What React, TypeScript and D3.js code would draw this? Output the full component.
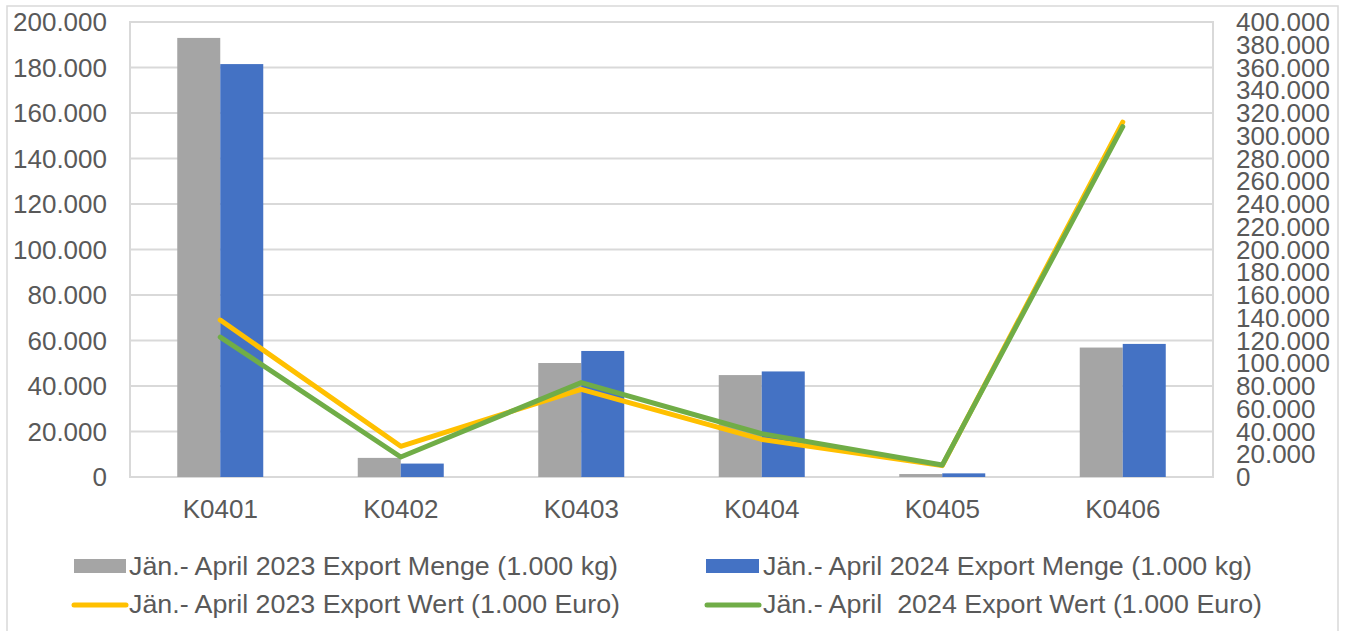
import React from "react";
import * as d3 from "d3";

// categories and series
const categories = ["K0401", "K0402", "K0403", "K0404", "K0405", "K0406"];
const menge2023 = [193000, 8400, 50100, 44800, 1300, 56900];
const menge2024 = [181500, 5900, 55400, 46400, 1600, 58500];
const wert2023 = [138000, 27000, 77000, 33000, 10000, 312000];
const wert2024 = [123000, 17600, 83000, 38000, 10500, 308000];

const leftTicks = d3.range(0, 200001, 20000);
const rightTicks = d3.range(0, 400001, 20000);

const seriesNames = [
  "Jän.- April 2023 Export Menge (1.000 kg)",
  "Jän.- April 2024 Export Menge (1.000 kg)",
  "Jän.- April 2023 Export Wert (1.000 Euro)",
  "Jän.- April  2024 Export Wert (1.000 Euro)",
];

const GRAY = "#A5A5A5";
const BLUE = "#4472C4";
const YELLOW = "#FFC000";
const GREEN = "#70AD47";
const TEXT = "#595959";
const GRID = "#D9D9D9";

const W = 1346;
const H = 631;
const plot = { left: 130, right: 1213, top: 22, bottom: 477 };

const fmt = (v: number) => (v === 0 ? "0" : d3.format(",.3f")(v / 1000).replace(",", "."));

export default function App() {
  const x = d3
    .scaleBand<string>()
    .domain(categories)
    .range([plot.left, plot.right]);
  const inner = d3
    .scaleBand<string>()
    .domain(["a", "b"])
    .range([0, 86]);
  const yL = d3.scaleLinear().domain([0, 200000]).range([plot.bottom, plot.top]);
  const yR = d3.scaleLinear().domain([0, 400000]).range([plot.bottom, plot.top]);

  const cx = (c: string) => (x(c) as number) + x.bandwidth() / 2;
  const line = d3
    .line<number>()
    .x((_, i) => cx(categories[i]))
    .y((d) => yR(d));

  const font = "'Liberation Sans', Arial, sans-serif";

  // legend items: text x and fitted length
  const legendText = [
    { x: 129, y: 575, len: 489 },
    { x: 763, y: 575, len: 489 },
    { x: 129, y: 613, len: 491 },
    { x: 763, y: 613, len: 499 },
  ];

  return (
    <div style={{ position: "absolute", left: 0, top: 0 }}>
      <svg width={W} height={H} style={{ display: "block", fontFamily: font }}>
        <rect x={0} y={0} width={W} height={H} fill="#fff" />
        {/* outer chart border */}
        <rect x={7} y={6} width={1331} height={640} fill="none" stroke={GRID} strokeWidth={1.5} />

        {/* gridlines */}
        {leftTicks.map((t) => (
          <line key={t} x1={plot.left} x2={plot.right} y1={yL(t)} y2={yL(t)} stroke={GRID} strokeWidth={2} />
        ))}
        <rect
          x={plot.left}
          y={plot.top}
          width={plot.right - plot.left}
          height={plot.bottom - plot.top}
          fill="none"
          stroke={GRID}
          strokeWidth={2}
        />

        {/* left axis labels */}
        {leftTicks.map((t) => (
          <text key={t} x={107} y={yL(t) + 9} textAnchor="end" fontSize={26} fill={TEXT}>
            {fmt(t)}
          </text>
        ))}
        {/* right axis labels */}
        {rightTicks.map((t) => (
          <text key={t} x={1236} y={yR(t) + 9} textAnchor="start" fontSize={26} fill={TEXT}>
            {fmt(t)}
          </text>
        ))}

        {/* bars */}
        {categories.map((c, i) => {
          const x0 = cx(c) - 43;
          return (
            <g key={c}>
              <rect
                x={x0 + (inner("a") as number)}
                y={yL(menge2023[i])}
                width={inner.bandwidth()}
                height={plot.bottom - yL(menge2023[i])}
                fill={GRAY}
              />
              <rect
                x={x0 + (inner("b") as number)}
                y={yL(menge2024[i])}
                width={inner.bandwidth()}
                height={plot.bottom - yL(menge2024[i])}
                fill={BLUE}
              />
            </g>
          );
        })}

        {/* lines */}
        <path d={line(wert2023) as string} fill="none" stroke={YELLOW} strokeWidth={5} strokeLinejoin="round" strokeLinecap="round" />
        <path d={line(wert2024) as string} fill="none" stroke={GREEN} strokeWidth={5} strokeLinejoin="round" strokeLinecap="round" />

        {/* category labels */}
        {categories.map((c) => (
          <text key={c} x={cx(c)} y={518} textAnchor="middle" fontSize={26} fill={TEXT}>
            {c}
          </text>
        ))}

        {/* legend */}
        <rect x={74} y={559} width={52} height={14} fill={GRAY} />
        <rect x={706} y={559} width={53} height={14} fill={BLUE} />
        <line x1={74} x2={126} y1={605} y2={605} stroke={YELLOW} strokeWidth={5} strokeLinecap="round" />
        <line x1={707} x2={759} y1={605} y2={605} stroke={GREEN} strokeWidth={5} strokeLinecap="round" />
        {seriesNames.map((n, i) => (
          <text
            key={n}
            x={legendText[i].x}
            y={legendText[i].y}
            fontSize={25}
            fill={TEXT}
            textLength={legendText[i].len}
            lengthAdjust="spacingAndGlyphs"
            style={{ whiteSpace: "pre" }}
          >
            {n}
          </text>
        ))}
      </svg>
    </div>
  );
}
